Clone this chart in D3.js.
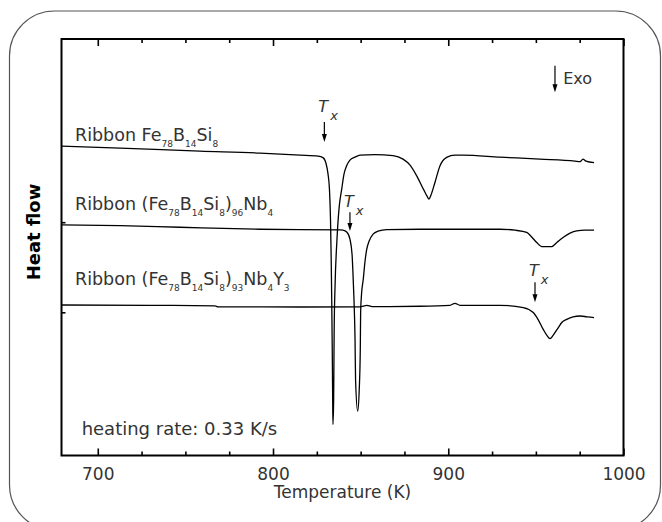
<!DOCTYPE html>
<html>
<head>
<meta charset="utf-8">
<script src="https://cdn.jsdelivr.net/npm/d3@7"></script>
<style>
  body { margin: 0; background: #fff; overflow: hidden; }
  svg { display: block; }
  svg text { font-family: "DejaVu Sans", sans-serif; fill: #333; }
</style>
</head>
<body>
<div id="chart"></div>
<script>
// temperature (K) and heat flow (a.u., exo down)
const tempFeBSi = [679.3, 712.7, 758.3, 792.6, 815.4, 825.7, 828.5, 830.2, 831.4, 832.2, 832.8, 833.2, 833.5, 833.8, 834.05, 834.2, 834.6, 834.9, 835.4, 836.5, 837.8, 839.2, 840.5, 842.0, 843.9, 846.8, 849.6, 858.2, 868.5, 874.2, 878.2, 882.0, 885.8, 887.9, 889.0, 890.1, 892.4, 895.3, 899.1, 903.8, 908.4, 929.5, 952.3, 972.3, 975.2, 976.9, 978.6, 983.2];
const flowFeBSi = [28.44, 28.22, 27.89, 27.67, 27.44, 27.33, 27.17, 26.56, 25.33, 23.67, 20.33, 15.89, 11.44, 5.89, 0.33, -2.44, 0.33, 8.11, 12.89, 18.11, 21.78, 23.67, 25.33, 26.26, 26.89, 27.22, 27.44, 27.5, 27.39, 27.0, 26.33, 25.14, 23.67, 22.89, 22.56, 23.0, 24.41, 26.26, 27.19, 27.44, 27.44, 27.22, 27.0, 26.78, 26.72, 27.0, 26.78, 26.61];

const tempNb = [679.3, 712.7, 746.9, 792.6, 838.2, 839.9, 842.2, 843.9, 845.1, 845.6, 846.2, 846.8, 847.1, 848.3, 849.2, 849.8, 850.0, 850.5, 851.5, 852.5, 853.5, 854.8, 857.1, 859.9, 864.9, 883.9, 929.5, 938.1, 944.8, 947.2, 950.5, 953.3, 955.8, 959.0, 962.1, 965.5, 969.5, 973.3, 978.0, 983.2];
const flowNb = [19.7, 19.61, 19.44, 19.22, 19.14, 19.11, 18.89, 18.11, 16.44, 14.44, 11.44, 7.0, 2.56, -0.97, 1.44, 5.89, 10.0, 12.0, 13.67, 15.67, 17.0, 17.89, 18.67, 19.0, 19.17, 19.22, 19.22, 19.11, 18.86, 18.44, 17.74, 17.3, 17.28, 17.3, 17.78, 18.3, 18.78, 19.03, 19.11, 19.11];

const tempNbY = [679.3, 729.8, 766.9, 768.6, 815.4, 849.6, 853.6, 856.5, 883.9, 901.0, 903.8, 906.7, 929.5, 942.8, 948.5, 951.2, 954.2, 956.3, 958.1, 959.8, 962.8, 964.9, 967.6, 971.2, 975.2, 979.2, 983.2];
const flowNbY = [10.81, 10.78, 10.72, 10.61, 10.59, 10.61, 10.78, 10.63, 10.67, 10.78, 11.0, 10.78, 10.78, 10.52, 9.97, 9.22, 8.11, 7.44, 7.08, 7.44, 8.3, 8.89, 9.22, 9.5, 9.59, 9.5, 9.41];

const tempTicks = [700, 800, 900, 1000];
const tempMinorTicks = [725, 750, 775, 825, 850, 875, 925, 950, 975];
const flowTicks = [10, 20];

// crystallization onsets (T_x) for each ribbon
const onsetTemps = [829.3, 843.9, 949.5];

const outerWidth = 662, outerHeight = 522;
const margin = {left: 61.5, right: 38.5, top: 39, bottom: 66.5};
const innerWidth = outerWidth - margin.left - margin.right;
const innerHeight = outerHeight - margin.top - margin.bottom;

const x = d3.scaleLinear().domain([679.3, 1000]).range([0, innerWidth]);
const y = d3.scaleLinear().domain([-5.89, 40.33]).range([innerHeight, 0]);

const svg = d3.select("#chart").append("svg")
    .attr("width", outerWidth)
    .attr("height", outerHeight);

svg.append("rect")
    .attr("x", 9.5).attr("y", 11)
    .attr("width", 651).attr("height", 519)
    .attr("rx", 45)
    .attr("fill", "none")
    .attr("stroke", "#555")
    .attr("stroke-width", 1.2);

const g = svg.append("g")
    .attr("transform", "translate(" + margin.left + "," + margin.top + ")");

// axes: ticks point inwards
g.append("g")
    .attr("transform", "translate(0," + innerHeight + ")")
    .call(d3.axisBottom(x).tickValues(tempTicks).tickSize(-7).tickPadding(12).tickFormat(d3.format("d")))
    .call(a => a.select(".domain").remove())
    .call(a => a.selectAll("text").attr("font-size", 17).attr("font-family", "DejaVu Sans").style("fill", "#333"));

g.append("g")
    .attr("transform", "translate(0," + innerHeight + ")")
    .call(d3.axisBottom(x).tickValues(tempMinorTicks).tickSize(-4).tickFormat(""))
    .call(a => a.select(".domain").remove());

g.append("g")
    .call(d3.axisTop(x).tickValues(tempTicks).tickSize(-7).tickFormat(""))
    .call(a => a.select(".domain").remove());

g.append("g")
    .call(d3.axisTop(x).tickValues(tempMinorTicks).tickSize(-4).tickFormat(""))
    .call(a => a.select(".domain").remove());

g.append("g")
    .call(d3.axisLeft(y).tickValues(flowTicks).tickSize(-4).tickFormat(""))
    .call(a => a.select(".domain").remove());

g.selectAll(".tick line").attr("stroke", "#000").attr("stroke-width", 1.6);

g.append("rect")
    .attr("width", innerWidth)
    .attr("height", innerHeight)
    .attr("fill", "none")
    .attr("stroke", "#000")
    .attr("stroke-width", 2);

const line = d3.line()
    .x(d => x(d[0]))
    .y(d => y(d[1]))
    .curve(d3.curveMonotoneX);

const traces = [
    d3.zip(tempFeBSi, flowFeBSi),
    d3.zip(tempNb, flowNb),
    d3.zip(tempNbY, flowNbY)
];

g.selectAll(".trace")
    .data(traces)
    .enter().append("path")
    .attr("class", "trace")
    .attr("d", line)
    .attr("fill", "none")
    .attr("stroke", "#000")
    .attr("stroke-width", 1.3);

// sample labels, with subscripts
const labels = [
    {v: 29.0, parts: [["Ribbon Fe"], ["78", 1], ["B"], ["14", 1], ["Si"], ["8", 1]]},
    {v: 21.3, parts: [["Ribbon (Fe"], ["78", 1], ["B"], ["14", 1], ["Si"], ["8", 1], [")"], ["96", 1], ["Nb"], ["4", 1]]},
    {v: 13.0, parts: [["Ribbon (Fe"], ["78", 1], ["B"], ["14", 1], ["Si"], ["8", 1], [")"], ["93", 1], ["Nb"], ["4", 1], ["Y"], ["3", 1]]}
];

labels.forEach(l => {
    const t = g.append("text")
        .attr("x", x(687))
        .attr("y", y(l.v))
        .attr("font-size", 17.5);
    l.parts.forEach((p, i) => {
        const prevSub = i > 0 && l.parts[i - 1][1];
        t.append("tspan")
            .text(p[0])
            .attr("font-size", p[1] ? 9 : 17.5)
            .attr("dy", p[1] ? 6 : (prevSub ? -6 : 0));
    });
});

// T_x markers
const arrow = (t, v0, v1) => {
    const px = x(t), y0 = y(v0), y1 = y(v1);
    g.append("line")
        .attr("x1", px).attr("x2", px)
        .attr("y1", y0).attr("y2", y1 - 6)
        .attr("stroke", "#000").attr("stroke-width", 1.2);
    g.append("path")
        .attr("d", `M${px - 2.5},${y1 - 8}L${px + 2.5},${y1 - 8}L${px},${y1}Z`)
        .attr("fill", "#000");
};

const onsetLabelV = [32.22, 21.67, 14.03];
const onsetArrowV = [[31.11, 28.89], [21.11, 19.03], [13.33, 11.11]];

onsetTemps.forEach((t, i) => {
    const tx = g.append("text")
        .attr("x", x(t) - 6)
        .attr("y", y(onsetLabelV[i]))
        .attr("font-size", 16)
        .attr("font-style", "italic");
    tx.append("tspan").text("T");
    tx.append("tspan").text("x").attr("font-size", 13).attr("dx", 2).attr("dy", 8);
    arrow(t, onsetArrowV[i][0], onsetArrowV[i][1]);
});

// Exo direction
arrow(960.9, 37.37, 34.41);
g.append("text")
    .attr("x", x(965.6))
    .attr("y", y(35.33))
    .attr("font-size", 16)
    .text("Exo");

g.append("text")
    .attr("x", x(690.8))
    .attr("y", y(-3.67))
    .attr("font-size", 18)
    .text("heating rate: 0.33 K/s");

svg.append("text")
    .attr("x", margin.left + innerWidth / 2)
    .attr("y", 498)
    .attr("text-anchor", "middle")
    .attr("font-size", 17)
    .text("Temperature (K)");

svg.append("text")
    .attr("transform", "translate(40,232) rotate(-90)")
    .attr("text-anchor", "middle")
    .attr("font-size", 18)
    .attr("font-weight", "bold")
    .style("fill", "#000")
    .text("Heat flow");
</script>
</body>
</html>
